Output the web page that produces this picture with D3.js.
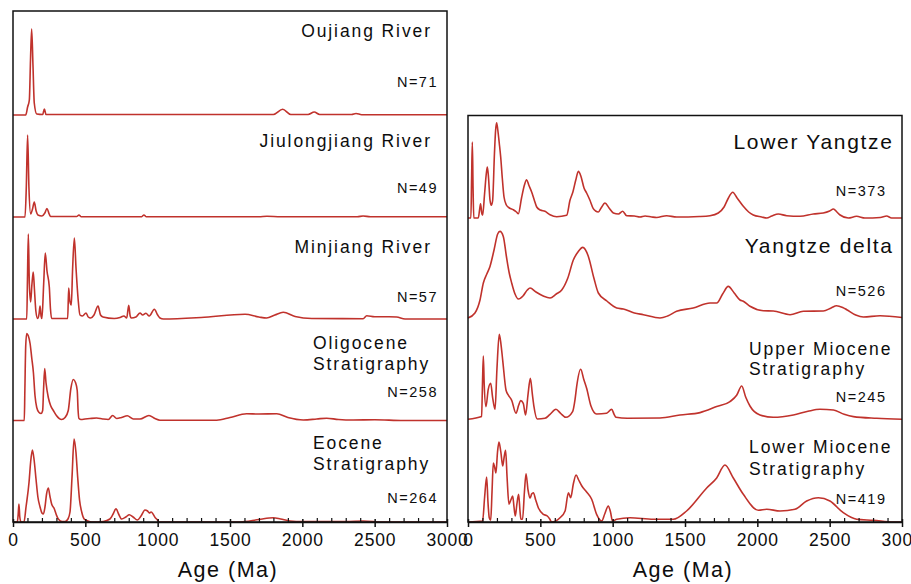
<!DOCTYPE html>
<html><head><meta charset="utf-8">
<script src="https://cdn.jsdelivr.net/npm/d3@7"></script>
<style>
html,body{margin:0;padding:0;background:#fff;}
svg{display:block;font-family:"Liberation Sans",Arial,Helvetica,sans-serif;}
</style></head>
<body>
<svg id="chart" width="911" height="584"></svg>
<script>
// ---- data: [age (Ma), relative probability] ----
const oujiang = [[0,0],[88,0],[101,8],[113,15],[121,55],[129,86],[138,50],[147,12],[164,1],[205,0.5],[217,6],[228,0.5],[1800,0.5],[1864,5.7],[1920,0.5],[2040,0.5],[2082,3],[2120,0.5],[2340,0.5],[2371,1.5],[2410,0.3],[3000,0.3]];
const jiulongjiang = [[0,0],[83,0],[92,30],[101,82],[110,30],[122,3],[135,8],[147,15],[160,6],[172,2],[200,1],[220,4],[235,8.5],[250,3],[260,0.5],[440,0.5],[456,2],[470,0.3],[890,0.3],[905,2],[920,0.3],[1700,0.3],[1755,0.8],[1850,0.3],[2380,0.3],[2420,1],[2470,0.2],[3000,0.2]];
const minjiang = [[0,0],[95,0],[100,40],[106,85],[113,35],[122,17],[131,35],[140,47],[148,30],[158,8],[170,0.5],[180,5],[187,13],[194,3],[200,0.5],[212,35],[223,66],[235,48],[251,32],[259,10],[267,0.5],[378,0.5],[385,31],[393,18],[403,14],[412,50],[424,81],[436,50],[450,20],[463,4],[480,3],[505,6],[520,2],[537,1],[560,4],[588,13],[605,4],[622,2],[700,0.5],[740,1.5],[767,3],[786,1],[800,13.7],[810,3],[818,1],[850,2],[878,6],[896,4],[919,5.7],[942,3],[977,9.7],[1000,4],[1016,1],[1040,0],[1300,1.5],[1604,4.7],[1700,2],[1753,1],[1810,4],[1868,6.7],[1950,2.5],[2065,0.5],[2420,0.3],[2445,3.3],[2500,2.3],[2600,2.3],[2652,2],[2710,0],[3000,0]];
const oligocene = [[0,0],[78,0],[82,30],[88,75],[95,87],[105,85],[118,77],[130,62],[141,48],[152,25],[164,13],[180,8],[194,7],[205,10],[211,30],[219,52],[228,38],[244,23],[260,15],[279,10],[300,5],[336,1],[360,3],[382,10],[400,32],[417,41],[432,38],[444,30],[450,10],[456,2],[470,1],[498,1.5],[532,2],[578,2.5],[620,1.5],[659,1],[689,5],[717,2],[750,3],[790,4.7],[832,1.5],[878,1.5],[940,5],[981,2],[1016,0.3],[1408,0.3],[1500,3],[1615,6.7],[1700,6.5],[1823,6.7],[1900,3],[2007,0.5],[2100,1.5],[2168,2.3],[2250,1],[2352,0.5],[2500,0.8],[2698,0],[3000,0]];
const eocene = [[0,0],[30,0],[36,8],[41,18],[47,5],[55,0],[76,0],[90,15],[111,40],[122,60],[134,72],[146,62],[159,43],[172,25],[187,15],[200,9],[210,8],[221,15],[232,28],[244,34],[255,26],[267,18],[286,13],[300,7],[313,3],[340,0.5],[360,0.5],[380,3],[394,10],[408,45],[422,83],[435,70],[447,45],[460,22],[475,10],[492,3],[509,1.5],[543,0],[624,0.5],[670,3],[692,8],[712,13.3],[730,8],[751,3],[780,5],[804,7.3],[830,5],[860,2],[885,6],[912,12],[930,11],[942,9],[955,10],[970,7.5],[985,4],[993,3],[1011,0],[1569,0],[1700,2.5],[1799,4.3],[1850,3],[1915,1],[2000,0.5],[2300,0.5],[2420,1],[2560,0],[3000,0]];
const lowerYangtze = [[0,0],[20,0],[25,40],[30,76],[35,30],[40,0],[71,0],[80,8],[87,14.3],[95,5],[101,2.7],[115,25],[127,45],[134,51],[142,40],[152,18],[161,12.7],[170,17],[183,65],[191,88],[198,95.3],[206,88],[216,75],[226,61],[237,40],[249,21],[265,13],[286,10],[313,8.3],[335,6],[348,4.3],[370,20],[390,33],[405,38.3],[420,33],[440,26],[458,18],[475,11],[500,8],[532,6.7],[567,3.3],[613,1.3],[682,2.7],[705,17.7],[725,26],[745,38],[763,46.7],[780,42],[802,30],[820,25],[843,17.7],[866,9.3],[882,7],[901,6],[920,10],[947,15],[975,10],[1005,5],[1040,4],[1069,6.7],[1097,2.3],[1150,2],[1189,1],[1224,2],[1270,1],[1304,0.5],[1373,2.3],[1442,1],[1600,1.5],[1673,2.3],[1730,5],[1770,11],[1800,20],[1830,25.7],[1860,20],[1903,11.7],[1940,6],[1972,3],[2030,1],[2065,0],[2100,2],[2145,4],[2203,2.3],[2295,1.7],[2387,4],[2456,5],[2500,7],[2526,9],[2550,6],[2572,3],[2629,0],[2686,1.7],[2744,0],[2850,0.5],[2894,2],[2928,0],[3000,0]];
const yangtzeDelta = [[0,0],[48,5],[83,18],[106,35],[130,44],[152,51.6],[180,68],[205,84],[221,86.6],[244,81.6],[265,62],[285,45],[302,35],[325,24],[348,19],[380,22],[410,28],[429,30],[470,26],[520,22],[567,20],[610,24],[648,28],[690,40],[728,58],[760,66],[793,70.6],[832,61.6],[870,40],[901,25],[960,17],[1028,10],[1074,9],[1150,5],[1212,3.3],[1327,0],[1380,2],[1442,6.7],[1557,10],[1673,15],[1719,15],[1760,24],[1799,31.6],[1840,25],[1880,18],[1903,16.7],[1949,11.7],[2041,7.3],[2110,7],[2226,3.3],[2318,6.7],[2456,7],[2510,10],[2548,12.3],[2590,10.5],[2618,8.3],[2680,3],[2733,1],[2848,2.3],[3000,0.5]];
const upperMiocene = [[0,0],[94,2.7],[100,35],[106,63.3],[112,35],[124,12.7],[140,30],[157,36],[170,22],[187,10],[200,50],[216,85],[228,75],[240,59],[263,29],[280,24],[302,19],[332,6],[350,14],[364,18.7],[382,16],[398,4.3],[415,25],[431,41],[445,25],[456,12.7],[479,0.3],[532,1],[567,5],[608,10],[640,6],[677,2],[723,7.7],[740,20],[751,32.7],[779,50],[800,40],[820,31],[850,13.3],[889,5.3],[958,6],[993,10],[1010,5],[1023,2],[1101,1],[1327,1.3],[1465,4.3],[1604,6.7],[1719,12.7],[1811,17.7],[1857,24],[1892,33.3],[1920,22],[1949,13.3],[2018,4.3],[2110,2],[2249,4.3],[2350,8],[2433,10],[2526,9.3],[2600,5],[2664,2.7],[2825,1],[3000,0]];
const lowerMiocene = [[0,0],[101,1],[115,25],[129,45],[138,20],[147,4.3],[157,1.7],[166,30],[175,59],[184,55],[193,49],[204,70],[214,80],[227,70],[240,56],[250,65],[260,71.7],[270,45],[283,17.7],[296,22],[309,26],[318,15],[327,6],[338,18],[350,27.7],[360,10],[366,2.7],[377,2.7],[390,30],[401,48.3],[415,32],[429,24],[440,28],[452,29.3],[468,22],[486,14.3],[521,7.7],[548,6],[565,3],[578,0],[636,4.3],[671,11],[694,29.3],[710,24.3],[728,38],[747,47],[765,42],[787,36],[820,30],[855,22.7],[889,7.7],[924,1],[945,8],[970,16],[985,10],[999,1],[1028,2.7],[1120,4.3],[1281,2.7],[1419,2.7],[1511,11],[1650,34],[1719,44],[1776,57],[1834,44],[1903,27.7],[2007,11.7],[2065,12.7],[2157,11],[2260,12.7],[2341,21],[2422,24.3],[2502,21],[2594,9.3],[2686,2.7],[2802,1.7],[2940,0],[3000,0]];

const leftNames = [["Oujiang River"],["Jiulongjiang River"],["Minjiang River"],["Oligocene","Stratigraphy"],["Eocene","Stratigraphy"]];
const leftN = ["N=71","N=49","N=57","N=258","N=264"];
const leftSeries = [oujiang, jiulongjiang, minjiang, oligocene, eocene];
const rightNames = [["Lower Yangtze"],["Yangtze delta"],["Upper Miocene","Stratigraphy"],["Lower Miocene","Stratigraphy"]];
const rightN = ["N=373","N=526","N=245","N=419"];
const rightSeries = [lowerYangtze, yangtzeDelta, upperMiocene, lowerMiocene];
const tickValues = [0,500,1000,1500,2000,2500,3000];
const axisTitle = "Age (Ma)";

// ---- layout ----
const RED = "#c0322c";
const INK = "#0d0d0d";
const svg = d3.select("#chart");

const panels = [
  {x0:13, x1:447, top:11, bottom:522, baselines:[115,217,319,420.5,522], series:leftSeries, names:leftNames, ns:leftN,
   labels:[
     {anchor:"end", x:430, ys:[-78.3], size:17.5, ls:1.9, nx:436.5, ny:-27.7},
     {anchor:"end", x:430, ys:[-69.7], size:17.5, ls:1.9, nx:436.5, ny:-24.3},
     {anchor:"end", x:430, ys:[-65.7], size:17.5, ls:1.9, nx:436.5, ny:-17.3},
     {anchor:"start", x:313, ys:[-71.2,-50.5], size:17.5, ls:1.9, nx:436.5, ny:-23.2},
     {anchor:"start", x:313, ys:[-73,-52], size:17.5, ls:1.9, nx:436.5, ny:-19.3}
   ]},
  {x0:468, x1:902, top:115.5, bottom:522, baselines:[218,318,419.3,522], series:rightSeries, names:rightNames, ns:rightN,
   labels:[
     {anchor:"end", x:892, ys:[-68.7], size:21, ls:1.7, nx:885, ny:-22},
     {anchor:"end", x:892, ys:[-64.7], size:21, ls:1.7, nx:885, ny:-21.6},
     {anchor:"start", x:749, ys:[-64.3,-44.3], size:17.5, ls:1.9, nx:885, ny:-17.6},
     {anchor:"start", x:749, ys:[-68.7,-47], size:17.5, ls:1.9, nx:885, ny:-18}
   ]}
];

panels.forEach(p => {
  const x = d3.scaleLinear().domain([0,3000]).range([p.x0, p.x1]);
  const g = svg.append("g");

  p.series.forEach((s, i) => {
    const base = p.baselines[i];
    const y = d3.scaleLinear().domain([0,100]).range([base, base-100]);
    const line = d3.line().x(d => x(d[0])).y(d => y(d[1])).curve(d3.curveMonotoneX);
    g.append("path").datum(s).attr("d", line)
      .attr("fill","none").attr("stroke",RED).attr("stroke-width",1.6).attr("stroke-linejoin","round");

    const L = p.labels[i];
    p.names[i].forEach((t, k) => {
      g.append("text").attr("x", L.x + (L.anchor==="end"?L.ls:0)).attr("y", base + L.ys[k])
        .attr("text-anchor", L.anchor).attr("font-size", L.size).attr("letter-spacing", L.ls)
        .attr("fill",INK).text(t);
    });
    g.append("text").attr("x", L.nx + 1.5).attr("y", base + L.ny)
      .attr("text-anchor","end").attr("font-size",14.5).attr("letter-spacing",1.5)
      .attr("fill",INK).text(p.ns[i]);
  });

  // frame
  g.append("rect").attr("x",p.x0).attr("y",p.top).attr("width",p.x1-p.x0).attr("height",p.bottom-p.top)
    .attr("fill","none").attr("stroke","#111").attr("stroke-width",1.5);

  // minor ticks (inward)
  const minor = d3.range(0,3001,100).filter(v => v % 500 !== 0);
  g.append("g").attr("transform",`translate(0,${p.bottom})`)
    .call(d3.axisBottom(x).tickValues(minor).tickSizeInner(-4).tickSizeOuter(0).tickFormat(""))
    .call(a => a.select(".domain").remove())
    .call(a => a.selectAll("line").attr("stroke","#111").attr("stroke-width",1.2));

  // major ticks & labels
  g.append("g").attr("transform",`translate(0,${p.bottom})`)
    .call(d3.axisBottom(x).tickValues(tickValues).tickSizeInner(5).tickSizeOuter(0).tickPadding(7).tickFormat(d3.format("d")))
    .call(a => a.select(".domain").attr("stroke","#111").attr("stroke-width",1.5))
    .call(a => a.selectAll("line").attr("stroke","#111").attr("stroke-width",1.5).attr("y1",-3))
    .call(a => a.selectAll("text").attr("font-size",17.5).attr("letter-spacing",0.8).attr("fill",INK)
      .attr("font-family","'Liberation Sans',Arial,sans-serif"));

  svg.append("text").attr("x",(p.x0+p.x1)/2 - 2).attr("y",576.5).attr("text-anchor","middle")
    .attr("font-size",21.5).attr("letter-spacing",1.5).attr("fill",INK).text(axisTitle);
});
</script>
</body></html>
